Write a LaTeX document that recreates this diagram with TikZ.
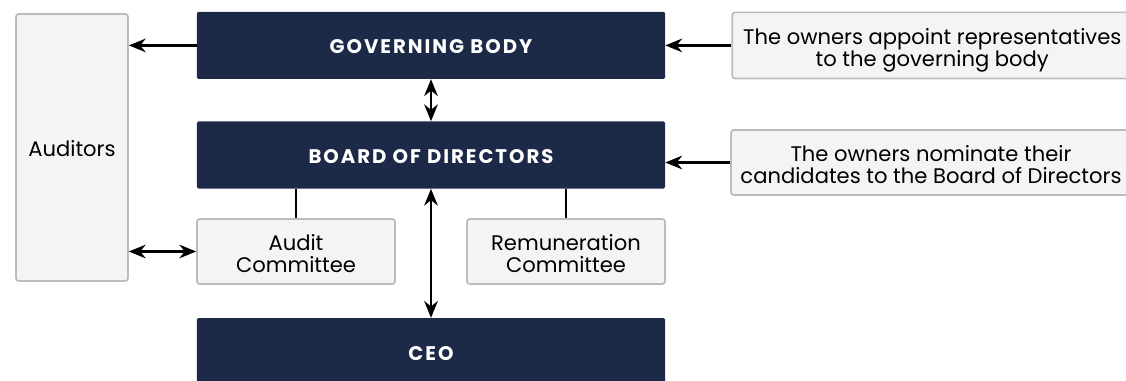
\documentclass[tikz,border=0pt]{standalone}
\usepackage{fontspec}
\setmainfont{Poppins}
\usetikzlibrary{arrows.meta, positioning}

\definecolor{navy}{HTML}{1C2A48}
\definecolor{boxfill}{HTML}{F5F4F2}
\definecolor{boxline}{HTML}{BDBBB8}

\begin{document}
\begin{tikzpicture}[
    x=0.025cm, y=-0.025cm,
    body/.style={rectangle, fill=navy, rounded corners=1pt, minimum width=11.7cm, minimum height=1.675cm, text=white, text height=12pt, text depth=0pt, font=\bfseries\fontsize{14}{16}\selectfont\addfontfeature{LetterSpace=10}},
    info/.style={rectangle, draw=boxline, line width=1.2pt, fill=boxfill, rounded corners=2pt, align=center, inner sep=0pt, text height=13pt, text depth=0pt, font=\fontsize{15}{15.5}\selectfont},
    twoline/.style={info, text height=30pt, text depth=0pt},
    arrow/.style={-{Stealth[length=4.2mm, width=3.4mm]}, line width=1.6pt},
    biarrow/.style={{Stealth[length=4.2mm, width=3.4mm]}-{Stealth[length=4.2mm, width=3.4mm]}, line width=1.6pt},
    link/.style={line width=1.6pt}
]
\useasboundingbox (0,0) rectangle (1126,381);
\clip (0,0) rectangle (1126,381);

% Main bodies
\node[body] (board) at (431,155) {BOARD OF DIRECTORS};
\node[body, above=1.05cm of board] (governing) {GOVERNING BODY};
\node[body, below=3.225cm of board, anchor=north] (ceo) {CEO};

% Auditors and committees
\node[info, minimum width=2.8cm, minimum height=6.675cm] (auditors) at (72,147.5) {Auditors};
\node[twoline, minimum width=4.95cm, minimum height=1.625cm] (audit) at (296,251.5) {Audit\\Committee};
\node[twoline, minimum width=4.95cm, minimum height=1.625cm] (remuneration) at (566,251.5) {Remuneration\\Committee};

% Owners
\node[twoline, minimum width=10cm, minimum height=1.65cm, right=1.65cm of governing] (appoint) {The owners appoint representatives\\to the governing body};
\node[twoline, minimum width=10cm, minimum height=1.625cm] (nominate) at (931,162.5) {The owners nominate their\\candidates to the Board of Directors};

% Arrows
\draw[arrow] (governing) -- (auditors.east |- governing);
\draw[arrow] (appoint) -- (governing);
\draw[arrow] (nominate) -- (board.east |- nominate);
\draw[biarrow] (governing) -- (board);
\draw[biarrow] (board) -- (ceo);
\draw[biarrow] (auditors.east |- audit) -- (audit);

% Committees hang from the board
\draw[link] (board.south -| audit) -- (audit);
\draw[link] (board.south -| remuneration) -- (remuneration);

\end{tikzpicture}
\end{document}
